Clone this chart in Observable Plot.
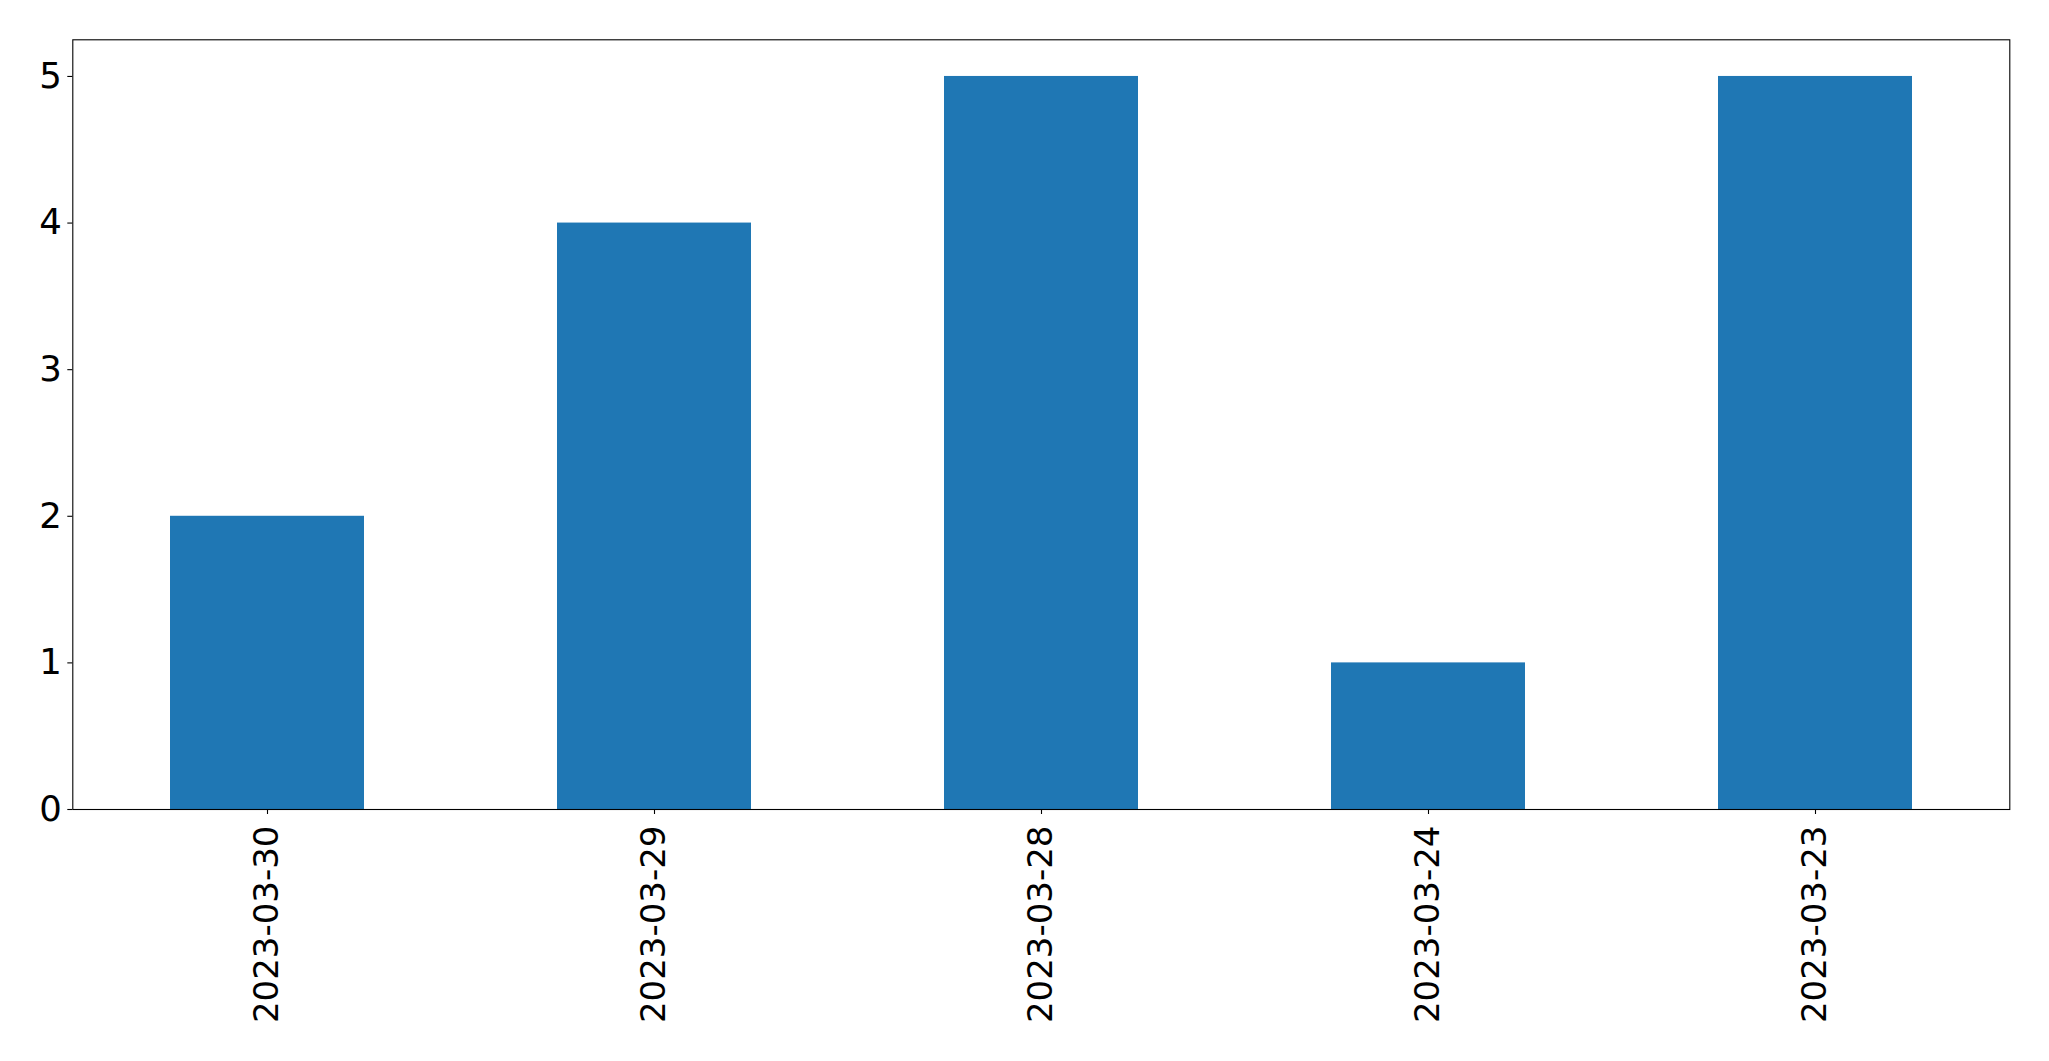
<!DOCTYPE html>
<html>
<head>
<meta charset="utf-8">
<script src="https://cdn.jsdelivr.net/npm/d3@7"></script>
<script src="https://cdn.jsdelivr.net/npm/@observablehq/plot@0.6"></script>
<style>
  html, body { margin: 0; padding: 0; background: #fff; }
  svg { display: block; }
</style>
</head>
<body>
<div id="chart"></div>
<script>
const dates = ["2023-03-30", "2023-03-29", "2023-03-28", "2023-03-24", "2023-03-23"];
const counts = [2, 4, 5, 1, 5];
const yTicks = [0, 1, 2, 3, 4, 5];

const data = dates.map((d, i) => ({date: d, count: counts[i]}));

const chart = Plot.plot({
  width: 2049,
  height: 1061,
  marginLeft: 72.3,
  marginRight: 39.7,
  marginTop: 39.3,
  marginBottom: 252,
  style: {fontFamily: "DejaVu Sans", fontSize: "34px", background: "#fff", color: "#000"},
  x: {domain: dates, paddingInner: 0.5, paddingOuter: 0.25, label: null},
  y: {domain: [0, 5.25], label: null},
  marks: [
    Plot.barY(data, {x: "date", y: "count", fill: "#1f77b4"}),
    Plot.frame({stroke: "#000", strokeWidth: 1.1}),
    Plot.axisY({ticks: yTicks, tickSize: 5, tickPadding: 6, fontSize: 35.5, label: null, tickFormat: d3.format("d"), strokeWidth: 1.1}),
    Plot.axisX({tickSize: 5, tickPadding: 11, tickRotate: -90, fontSize: 34, label: null, strokeWidth: 1.1})
  ]
});
document.getElementById("chart").appendChild(chart);
</script>
</body>
</html>
